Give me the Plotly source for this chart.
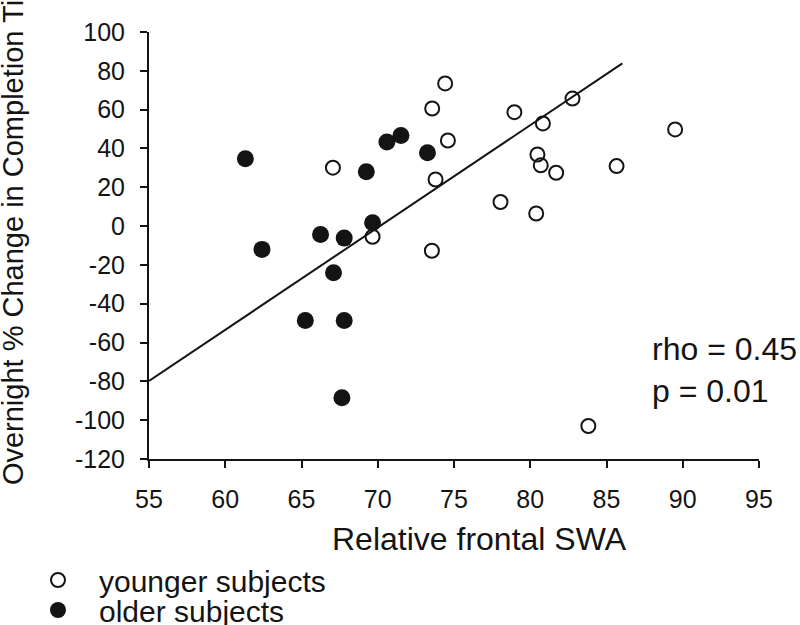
import plotly.graph_objects as go

# Data
younger_x = [67.06, 69.66, 73.55, 74.42, 73.57, 74.60, 73.79, 78.96, 80.83, 82.77,
             80.47, 80.69, 81.70, 78.05, 80.39, 85.66, 89.50, 83.81]
younger_y = [30.1, -5.5, -12.7, 73.5, 60.6, 44.1, 24.0, 58.7, 52.9, 65.7,
             36.9, 31.3, 27.5, 12.4, 6.5, 30.9, 49.8, -103.0]
older_x = [61.32, 62.41, 66.25, 67.80, 69.25, 69.66, 70.60, 71.52, 73.26,
           67.10, 65.25, 67.80, 67.65]
older_y = [34.7, -12.0, -4.3, -6.2, 28.0, 1.75, 43.3, 46.7, 37.8,
           -24.0, -48.6, -48.6, -88.4]
fit_x = [55.0, 86.04]
fit_y = [-79.8, 83.8]
x_ticks = [55, 60, 65, 70, 75, 80, 85, 90, 95]
y_ticks = [100, 80, 60, 40, 20, 0, -20, -40, -60, -80, -100, -120]

FONT = "Liberation Sans, Arial, sans-serif"
INK = "#141414"

W, H = 800, 625
L, R, T, B = 148.6, 41.0, 32.3, 165.5
PW = W - L - R
PH = H - T - B

fig = go.Figure()
fig.add_trace(go.Scatter(x=fit_x, y=fit_y, mode="lines",
                         line=dict(color=INK, width=2), showlegend=False,
                         hoverinfo="skip"))
fig.add_trace(go.Scatter(x=younger_x, y=younger_y, mode="markers",
                         name="younger subjects", legend="legend",
                         marker=dict(symbol="circle-open", size=14, color=INK,
                                     line=dict(width=2, color=INK))))
fig.add_trace(go.Scatter(x=older_x, y=older_y, mode="markers",
                         name="older subjects", legend="legend2",
                         marker=dict(symbol="circle", size=17, color=INK,
                                     line=dict(width=0))))

axis_common = dict(showgrid=False, zeroline=False, showline=True, linecolor=INK,
                   linewidth=2, ticks="outside", tickwidth=2, ticklen=7,
                   tickcolor=INK, automargin=False,
                   tickfont=dict(family=FONT, size=25, color=INK))

fig.update_xaxes(range=[55, 95], tickvals=x_ticks, ticktext=[str(v) for v in x_ticks],
                 ticklabelstandoff=10, **axis_common)
fig.update_yaxes(range=[-120, 100], tickvals=y_ticks, ticktext=[str(v) for v in y_ticks],
                 ticklabelstandoff=10, **axis_common)

def px_x(p):
    return (p - L) / PW

def px_y(p):
    return 1 - (p - T) / PH

fig.add_annotation(text="Relative frontal SWA", xref="paper", yref="paper",
                   x=px_x(479), y=px_y(540), xanchor="center", yanchor="middle",
                   showarrow=False, font=dict(family=FONT, size=32, color=INK))
fig.add_annotation(text="Overnight % Change in Completion Time", xref="paper", yref="paper",
                   x=px_x(12), y=px_y(223), xanchor="center", yanchor="middle",
                   textangle=-90, showarrow=False,
                   font=dict(family=FONT, size=29, color=INK))
fig.add_annotation(text="rho = 0.45<br>p = 0.01", xref="paper", yref="paper",
                   x=px_x(650), y=px_y(370), xanchor="left", yanchor="middle",
                   align="left", showarrow=False,
                   font=dict(family=FONT, size=32, color=INK))

leg = dict(xref="container", yref="container", xanchor="left", yanchor="middle",
           bgcolor="rgba(0,0,0,0)", itemwidth=72, borderwidth=0,
           font=dict(family=FONT, size=30, color=INK))
fig.update_layout(
    width=W, height=H, autosize=False,
    margin=dict(l=L, r=R, t=T, b=B, pad=0, autoexpand=False),
    paper_bgcolor="white", plot_bgcolor="white",
    legend=dict(x=17 / W, y=1 - 580 / H, **leg),
    legend2=dict(x=17 / W, y=1 - 610 / H, **leg),
)

fig.write_html("out.html", config={"displayModeBar": False},
               post_script="document.body.style.margin='0';document.body.style.overflow='hidden';")
